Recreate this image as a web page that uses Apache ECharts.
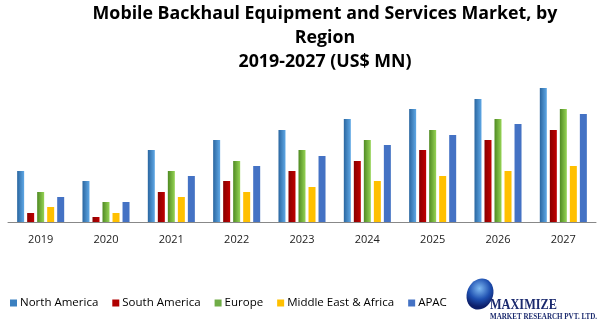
<!DOCTYPE html>
<html><head><meta charset="utf-8">
<script src="https://cdn.jsdelivr.net/npm/echarts@6/dist/echarts.min.js"></script>
<style>html,body{margin:0;padding:0;background:#fff}#c{width:606px;height:324px}</style>
</head><body><div id="c"></div>
<script>
const years = ['2019','2020','2021','2022','2023','2024','2025','2026','2027'];
const seriesNames = ['North America','South America','Europe','Middle East & Africa','APAC'];
const northAmerica = [51, 41, 72, 82, 92, 103, 113, 123, 134];
const southAmerica = [9, 5, 30, 41, 51, 61, 72, 82, 92];
const europe = [30, 20, 51, 61, 72, 82, 92, 103, 113];
const middleEastAfrica = [15, 9, 25, 30, 35, 41, 46, 51, 56];
const apac = [25, 20, 46, 56, 66, 77, 87, 98, 108];
const titleLines = ['Mobile Backhaul Equipment and Services Market, by', 'Region', '2019-2027 (US$ MN)'];

function grad(a, b) {
  return new echarts.graphic.LinearGradient(0, 0, 1, 0, [{offset: 0, color: a}, {offset: 1, color: b}]);
}
const colors = [grad('#2a66a0', '#5fa8e6'), grad('#8a0000', '#c00000'), grad('#4f8a22', '#96d455'), '#ffc000', '#4472c4'];
const legendColors = ['#3b80c0', '#b00000', '#70ad47', '#ffc000', '#4472c4'];
const dataAll = [northAmerica, southAmerica, europe, middleEastAfrica, apac];

const chart = echarts.init(document.getElementById('c'), null, {renderer: 'canvas'});
chart.setOption({
  animation: false,
  title: {
    text: titleLines.join('\n'),
    left: 320, textAlign: 'center', top: -3,
    textStyle: {fontFamily: 'Open Sans', fontWeight: 'bold', fontSize: 17.8, lineHeight: 24, color: '#000'}
  },
  legend: {
    left: 5, top: 292, itemWidth: 7, itemHeight: 7, itemGap: 14,
    icon: 'rect',
    textStyle: {fontFamily: 'Open Sans', fontSize: 11.5, color: '#000', padding: [0,0,0,-2]},
    data: seriesNames.map((n, i) => ({name: n, itemStyle: {color: legendColors[i]}}))
  },
  grid: {left: 8, right: 10, top: 80, height: 142},
  xAxis: {
    type: 'category', data: years,
    axisLine: {lineStyle: {color: '#888', width: 1}},
    axisTick: {show: false},
    axisLabel: {fontFamily: 'Open Sans', fontSize: 11, color: '#222', margin: 12}
  },
  yAxis: {type: 'value', min: 0, max: 142, show: false, splitLine: {show: false}},
  series: seriesNames.map((n, i) => ({
    name: n, type: 'bar', data: dataAll[i], barWidth: 7, barGap: '43%',
    itemStyle: {color: colors[i]}
  })),
  graphic: [
    {type: 'ellipse', shape: {cx: 480, cy: 294, rx: 13, ry: 16}, rotation: -0.4, originX: 480, originY: 294,
     style: {fill: new echarts.graphic.RadialGradient(0.4, 0.35, 0.7, [{offset: 0, color: '#7fbaf2'}, {offset: 0.6, color: '#1e4fb0'}, {offset: 1, color: '#0d1f6a'}])}},
    {type: 'text', x: 490, y: 298, scaleX: 0.82, style: {text: 'MAXIMIZE', font: 'bold 15px "Liberation Serif"', fill: '#1b2a6e'}},
    {type: 'text', x: 490, y: 313, scaleX: 0.88, style: {text: 'MARKET RESEARCH PVT. LTD.', font: 'bold 8px "Liberation Serif"', fill: '#1b2a6e'}}
  ]
});
</script></body></html>
